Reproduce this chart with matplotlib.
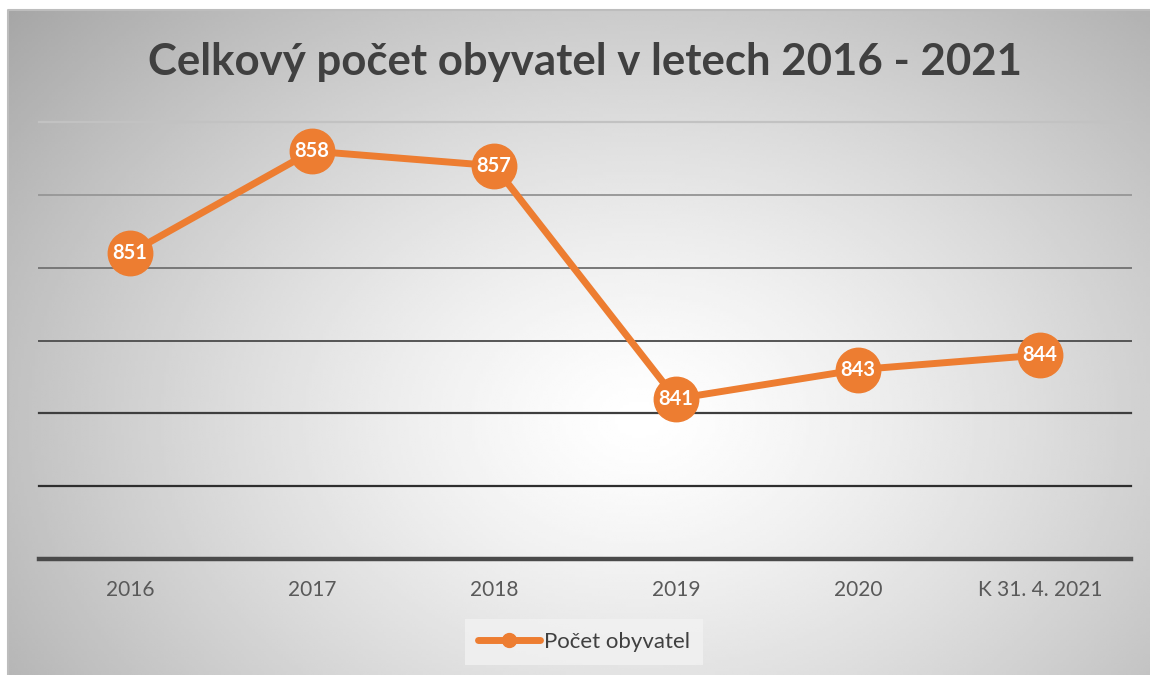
import matplotlib
matplotlib.use("Agg")
import matplotlib.pyplot as plt
import numpy as np

# data
categories = ["2016", "2017", "2018", "2019", "2020", "K 31. 4. 2021"]
obyvatele = [851, 858, 857, 841, 843, 844]
y_ticks = [830, 835, 840, 845, 850, 855, 860]

title = "Celkový počet obyvatel v letech 2016 - 2021"
series_name = "Počet obyvatel"

orange = "#ED7D31"
plt.rcParams['font.family'] = ['Lato', 'DejaVu Sans']

W, H = 1150, 675
fig = plt.figure(figsize=(W / 100, H / 100), dpi=100)
fig.patch.set_facecolor("white")

# radial gradient background of the chart area
bx0, by0 = 8, 10
bg = fig.add_axes([bx0 / W, 0, 1 - bx0 / W, (H - by0) / H])
gx, gy = np.meshgrid(np.linspace(bx0, W, 400), np.linspace(by0, H, 240))
cx, cy = 640, 420
r = np.sqrt(((gx - cx) / 650) ** 2 + ((gy - cy) / 480) ** 2)
val = np.clip(1 - 0.25 * r ** 1.3, 0, 1)
bg.imshow(val, cmap="gray", vmin=0, vmax=1, aspect="auto",
          extent=[0, 1, 0, 1], origin="upper", interpolation="bilinear")
bg.set_xlim(0, 1)
bg.set_ylim(0, 1)
bg.axis("off")
bg.plot([0, 0, 1], [0, 1, 1], color="#bdbdbd", lw=1.5, transform=bg.transAxes, clip_on=False)

ax = fig.add_axes([39 / W, 1 - 559 / H, 1092 / W, (559 - 122) / H])
ax.patch.set_alpha(0)
x = np.arange(len(categories))
ax.plot(x, obyvatele, color=orange, lw=5, marker="o", ms=32, mfc=orange,
        mec=orange, zorder=3, solid_joinstyle="round", solid_capstyle="round",
        clip_on=False)
for xi, v in zip(x, obyvatele):
    ax.text(xi, v, str(v), color="white", fontsize=14.5, fontweight="bold",
            ha="center", va="center", zorder=4)

ax.set_xlim(-0.5, len(categories) - 0.5)
ax.set_ylim(y_ticks[0], y_ticks[-1])
ax.set_yticks(y_ticks)
ax.set_yticklabels([])
ax.set_xticks(x)
ax.set_xticklabels(categories, fontsize=15, color="#595959")
ax.tick_params(length=0, pad=15)
for s in ax.spines.values():
    s.set_visible(False)

grid_colors = ["#4a4a4a", "#2e2e2e", "#3e3e3e", "#555555", "#777777", "#999999", "#c2c2c2"]
grid_widths = [3.2, 1.6, 1.6, 1.4, 1.4, 1.4, 1.6]
for yv, c, w in zip(y_ticks, grid_colors, grid_widths):
    ax.axhline(yv, color=c, lw=w, zorder=1, clip_on=False)

fig.text(585 / W, 1 - 62 / H, title, ha="center", va="center",
         fontsize=31.5, fontweight="bold", color="#404040")

handle, = ax.plot([], [], color=orange, lw=5, marker="o", ms=10, solid_capstyle="round")
leg = fig.legend([handle], [series_name], loc="center",
                 bbox_to_anchor=(584 / W, 1 - 642 / H), frameon=True,
                 fontsize=16, handlelength=2.8, handletextpad=0.15,
                 borderpad=0.6, borderaxespad=0, fancybox=False)
leg.get_frame().set_facecolor("#f2f2f2")
leg.get_frame().set_edgecolor("none")
for t in leg.get_texts():
    t.set_color("#404040")

fig.savefig("out.png", dpi=100)
